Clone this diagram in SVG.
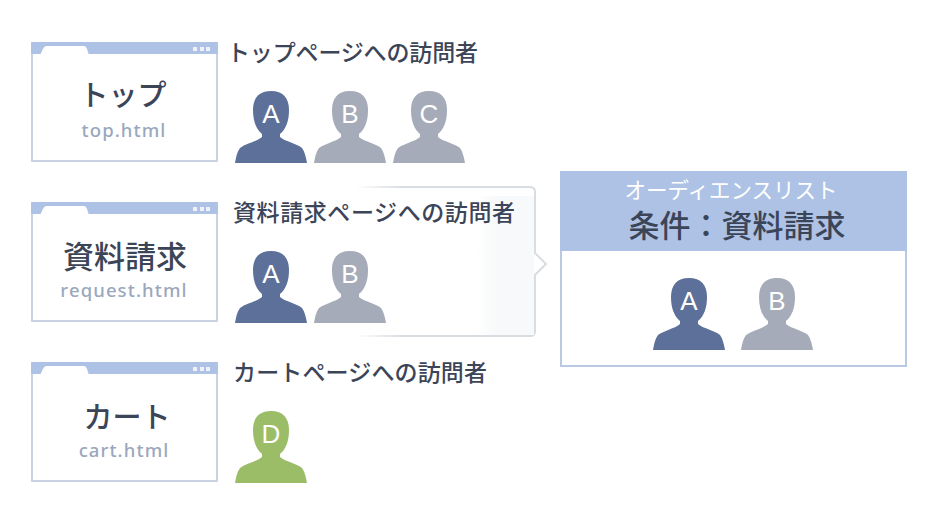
<svg xmlns="http://www.w3.org/2000/svg" xmlns:xlink="http://www.w3.org/1999/xlink" width="934" height="518" viewBox="0 0 934 518">
<style>
text{font-family:"Noto Sans CJK JP","Noto Sans",sans-serif;text-anchor:middle}
.frame{fill:#fff;stroke:#c9d3e4;stroke-width:2}
.bar{fill:#adc2e4}
.tab{fill:#fff}
.dot{fill:#eef2f8}
.title{font-size:23px;fill:#3c4558;font-weight:500;text-anchor:start}
.name{fill:#3c4558;font-weight:500}
.file{font-family:"Noto Sans",sans-serif;font-size:18.5px;fill:#9aa7bd;font-weight:500;letter-spacing:1.1px}
.blue{fill:#5d7099}.grey{fill:#a5abb8}.green{fill:#9cbd68}
.ltr{font-family:"Liberation Sans",sans-serif;font-size:26px;fill:#fff}
</style>
<defs>
<linearGradient id="fade" x1="0" x2="1" y1="0" y2="0"><stop offset="0" stop-color="#d8dde2" stop-opacity="0"/><stop offset=".25" stop-color="#d8dde2"/></linearGradient>
<linearGradient id="haze" x1="0" x2="1" y1="0" y2="0"><stop offset="0" stop-color="#f8f9fa" stop-opacity="0"/><stop offset=".3" stop-color="#f8f9fa"/></linearGradient>
<path id="p" d="M36 0C48 0 54 7 54 19C54 30 51 38 45 43L45 46C51 51 61 52 67 57C70 61 71 67 72 72L0 72C1 66 2 61 5 57C12 52 21 51 27 46L27 43C21 38 18 30 18 19C18 7 24 0 36 0Z"/>
<g id="win">
<rect class="frame" x="32" y="43" width="185" height="118"/>
<rect class="bar" x="31" y="42" width="187" height="12"/>
<path class="tab" d="M40 55L43 49Q44 46 47 46L84 46Q86 46 87 49L89 55Z"/>
<rect class="dot" x="193" y="47" width="4" height="4"/><rect class="dot" x="200" y="47" width="4" height="4"/><rect class="dot" x="206" y="47" width="4" height="4"/>
</g>
</defs>
<g id="connectors">
<path d="M355 187L530 187Q535 187 535 192L535 253L546 264L535 275L535 331Q535 336 530 336L355 336" fill="#fff" stroke="url(#fade)" stroke-width="2"/>
<rect x="477" y="196" width="57" height="139" fill="url(#haze)"/>
</g>
<g id="page-top">
<use href="#win"/>
<text class="name" x="123" y="106" font-size="29">トップ</text>
<text class="file" x="124" y="137">top.html</text>
</g>
<g id="page-request">
<use href="#win" y="160"/>
<text class="name" x="125" y="268" font-size="31">資料請求</text>
<text class="file" x="124" y="297">request.html</text>
</g>
<g id="page-cart">
<use href="#win" y="320"/>
<text class="name" x="127" y="428" font-size="29">カート</text>
<text class="file" x="124" y="457">cart.html</text>
</g>
<g id="visitors-top">
<text class="title" x="227" y="61" textLength="251">トップページへの訪問者</text>
<use href="#p" class="blue" x="235" y="91"/><text class="ltr" x="271" y="123">A</text>
<use href="#p" class="grey" x="314" y="91"/><text class="ltr" x="350" y="123">B</text>
<use href="#p" class="grey" x="393" y="91"/><text class="ltr" x="429" y="123">C</text>
</g>
<g id="visitors-request">
<text class="title" x="233" y="221" textLength="282">資料請求ページへの訪問者</text>
<use href="#p" class="blue" x="235" y="251"/><text class="ltr" x="271" y="283">A</text>
<use href="#p" class="grey" x="314" y="251"/><text class="ltr" x="350" y="283">B</text>
</g>
<g id="visitors-cart">
<text class="title" x="233" y="381" textLength="254">カートページへの訪問者</text>
<use href="#p" class="green" x="235" y="411"/><text class="ltr" x="271" y="443">D</text>
</g>
<g id="audience">
<rect x="561" y="172" width="345" height="194" fill="#fff" stroke="#b9c9e5" stroke-width="2"/>
<rect x="560" y="171" width="347" height="80" fill="#adc2e4"/>
<text x="731" y="198" font-size="21.5" fill="#fff">オーディエンスリスト</text>
<text class="name" x="737" y="237" font-size="31" font-weight="700">条件：資料請求</text>
<use href="#p" class="blue" x="653" y="278"/><text class="ltr" x="689" y="310">A</text>
<use href="#p" class="grey" x="741" y="278"/><text class="ltr" x="777" y="310">B</text>
</g>
</svg>
